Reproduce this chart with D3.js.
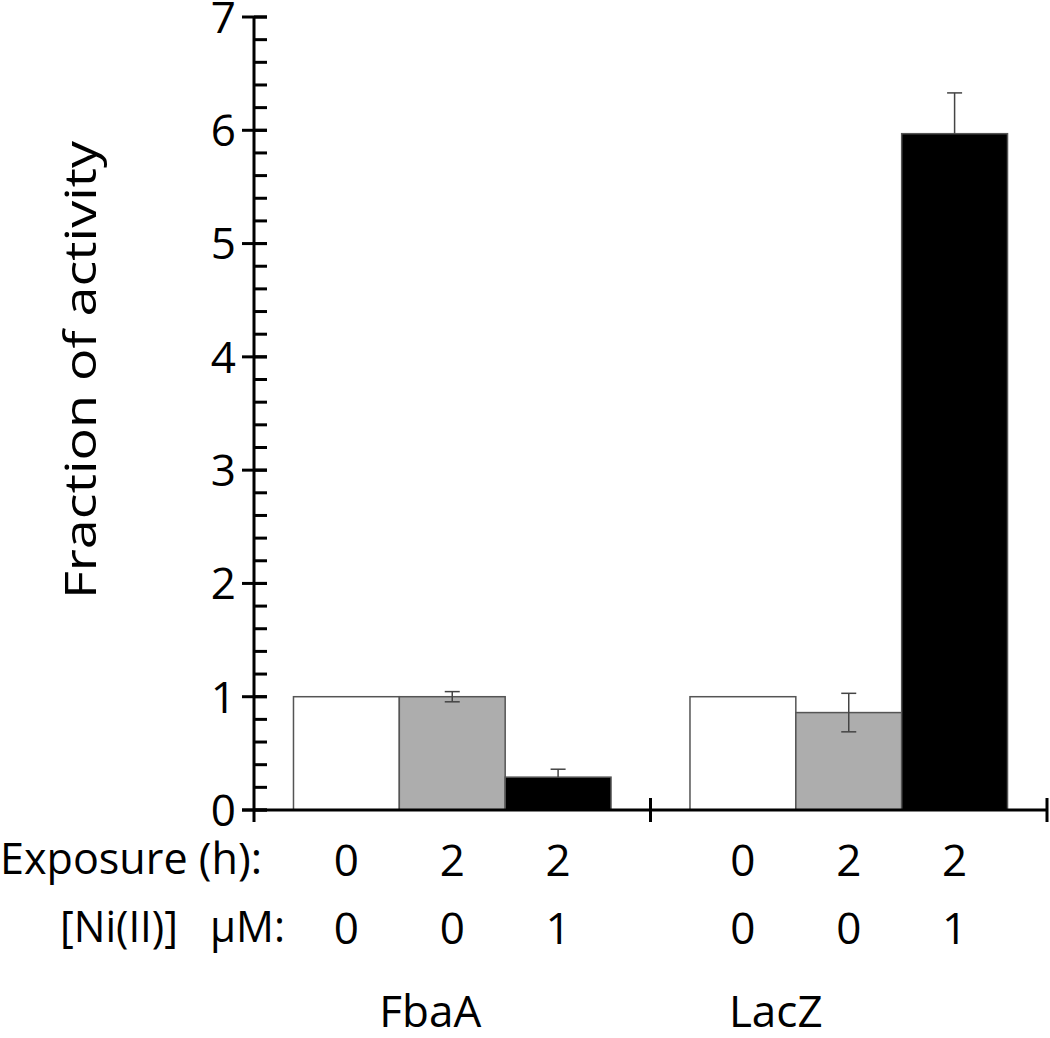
<!DOCTYPE html>
<html>
<head>
<meta charset="utf-8">
<script src="https://cdn.jsdelivr.net/npm/d3@7"></script>
<style>
  html, body { margin: 0; padding: 0; background: #fff; }
  svg { display: block; }
  text { font-family: "Open Sans", sans-serif; fill: #000; }
</style>
</head>
<body>
<svg id="chart" width="1050" height="1038"></svg>
<script>
// ---- data ----
const groups = ["FbaA", "LacZ"];
const conditions = ["c1", "c2", "c3"];
const exposureLabels = ["0", "2", "2"];
const nickelLabels = ["0", "0", "1"];
const fbaAValues = [1.0, 1.0, 0.29];
const fbaAErrors = [0, 0.045, 0.07];
const lacZValues = [1.0, 0.86, 5.97];
const lacZErrors = [0, 0.17, 0.36];
const yTicks = [0, 1, 2, 3, 4, 5, 6, 7];
const barColors = ["#ffffff", "#adadad", "#000000"];

const series = [
  { group: "FbaA", values: fbaAValues, errors: fbaAErrors },
  { group: "LacZ", values: lacZValues, errors: lacZErrors }
];

// ---- layout ----
const svg = d3.select("#chart");
const axisX = 254, x0Right = 1047;
const y = d3.scaleLinear().domain([0, 7]).range([810, 17]);
const x0 = d3.scaleBand().domain(groups).range([axisX, x0Right]).paddingInner(0).paddingOuter(0);
const x1 = d3.scaleBand().domain(conditions).range([0, x0.bandwidth()]).paddingInner(0).paddingOuter(0.373);

const FS = 44;

// bars
const gGroups = svg.selectAll("g.grp").data(series).join("g")
  .attr("class", "grp")
  .attr("transform", d => `translate(${x0(d.group)},0)`);

gGroups.selectAll("rect").data(d => d.values.map((v, i) => ({ v, i, e: d.errors[i] })))
  .join("rect")
  .attr("x", d => x1(conditions[d.i]))
  .attr("width", x1.bandwidth())
  .attr("y", d => y(d.v))
  .attr("height", d => y(0) - y(d.v))
  .attr("fill", d => barColors[d.i])
  .attr("stroke", "#555")
  .attr("stroke-width", 1.5);

// error bars
const capW = 15;
gGroups.selectAll("g.err").data(d => d.values.map((v, i) => ({ v, i, e: d.errors[i] })).filter(d => d.e > 0))
  .join("g").attr("class", "err")
  .each(function(d) {
    const g = d3.select(this);
    const cx = x1(conditions[d.i]) + x1.bandwidth() / 2;
    const dark = barColors[d.i] === "#000000";
    const lo = dark ? d.v : d.v - d.e;
    const hi = d.v + d.e;
    g.append("line").attr("x1", cx).attr("x2", cx).attr("y1", y(lo)).attr("y2", y(hi))
      .attr("stroke", "#444").attr("stroke-width", 1.5);
    g.append("line").attr("x1", cx - capW / 2).attr("x2", cx + capW / 2).attr("y1", y(hi)).attr("y2", y(hi))
      .attr("stroke", "#444").attr("stroke-width", 1.5);
    if (!dark) {
      g.append("line").attr("x1", cx - capW / 2).attr("x2", cx + capW / 2).attr("y1", y(lo)).attr("y2", y(lo))
        .attr("stroke", "#444").attr("stroke-width", 1.5);
    }
  });

// y axis: minor ticks (right side)
const minorTicks = d3.range(0, 7.001, 0.2).map(v => +v.toFixed(1));
const axisG = svg.append("g");
axisG.selectAll("line.minor").data(minorTicks).join("line")
  .attr("x1", axisX).attr("x2", axisX + 13)
  .attr("y1", d => y(d)).attr("y2", d => y(d))
  .attr("stroke", "#000").attr("stroke-width", 3);
// major ticks (crossing)
axisG.selectAll("line.major").data(yTicks).join("line")
  .attr("x1", axisX - 12).attr("x2", axisX + 13)
  .attr("y1", d => y(d)).attr("y2", d => y(d))
  .attr("stroke", "#000").attr("stroke-width", 3);
// y axis line
axisG.append("line").attr("x1", axisX).attr("x2", axisX).attr("y1", y(7) - 1).attr("y2", y(0) + 12)
  .attr("stroke", "#000").attr("stroke-width", 3);
// y tick labels
axisG.selectAll("text.yt").data(yTicks).join("text")
  .attr("x", 236).attr("y", d => y(d)).attr("dy", "0.36em")
  .attr("text-anchor", "end").attr("font-size", FS)
  .text(d => d);

// x axis
axisG.append("line").attr("x1", axisX - 12).attr("x2", x0Right).attr("y1", y(0)).attr("y2", y(0))
  .attr("stroke", "#000").attr("stroke-width", 3);
const xTickPos = groups.map(g => x0(g) + x0.bandwidth());
axisG.selectAll("line.xt").data(xTickPos).join("line")
  .attr("x1", d => d).attr("x2", d => d).attr("y1", y(0) - 12).attr("y2", y(0) + 12)
  .attr("stroke", "#000").attr("stroke-width", 3);

// y axis title
svg.append("text")
  .attr("transform", "translate(96,370) rotate(-90)")
  .attr("text-anchor", "middle").attr("font-size", FS)
  .attr("textLength", 458).attr("lengthAdjust", "spacingAndGlyphs")
  .text("Fraction of activity");

// row labels
svg.append("text").attr("x", 0).attr("y", 874).attr("font-size", FS)
  .attr("textLength", 262).attr("lengthAdjust", "spacingAndGlyphs")
  .text("Exposure (h):");
svg.append("text").attr("x", 60).attr("y", 942).attr("font-size", FS)
  .attr("textLength", 118).attr("lengthAdjust", "spacingAndGlyphs")
  .text("[Ni(II)]");
svg.append("text").attr("x", 210).attr("y", 942).attr("font-size", FS)
  .attr("textLength", 75).attr("lengthAdjust", "spacingAndGlyphs")
  .text("µM:");

// condition labels under bars
groups.forEach(g => {
  conditions.forEach((c, i) => {
    const cx = x0(g) + x1(c) + x1.bandwidth() / 2;
    svg.append("text").attr("x", cx).attr("y", 876).attr("text-anchor", "middle").attr("font-size", FS)
      .text(exposureLabels[i]);
    svg.append("text").attr("x", cx).attr("y", 944).attr("text-anchor", "middle").attr("font-size", FS)
      .text(nickelLabels[i]);
  });
});

// group labels
const groupLabelOffset = { FbaA: -22, LacZ: -73 };
svg.selectAll("text.grp").data(groups).join("text")
  .attr("x", d => x0(d) + x0.bandwidth() / 2 + groupLabelOffset[d])
  .attr("y", 1027).attr("text-anchor", "middle").attr("font-size", FS)
  .text(d => d);
</script>
</body>
</html>
